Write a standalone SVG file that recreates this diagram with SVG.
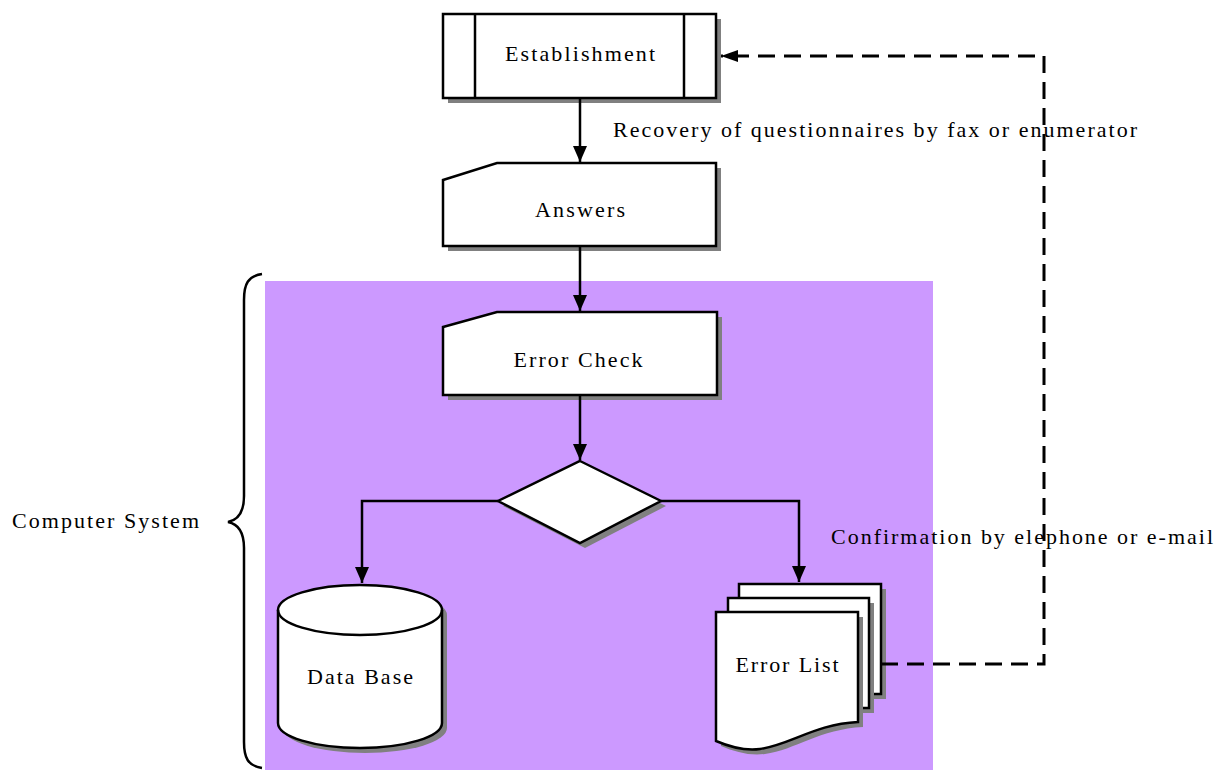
<svg xmlns="http://www.w3.org/2000/svg" width="1221" height="770" viewBox="0 0 1221 770">
<defs>
<style>
.shape{fill:#fff;stroke:#000;stroke-width:2.5;stroke-linejoin:miter}
.shadow{fill:#808080;stroke:none}
.line{fill:none;stroke:#000;stroke-width:2.5}
.dash{fill:none;stroke:#000;stroke-width:3;stroke-dasharray:17 9}
text{font-family:"Liberation Serif","Times New Roman",serif;font-size:22px;fill:#000}
</style>
<marker id="arr" markerUnits="userSpaceOnUse" markerWidth="14" markerHeight="18" viewBox="0 0 14 18" refX="16" refY="7" orient="auto">
<path d="M0,0 L16,7 L0,14 Z" fill="#000"/>
</marker>
<marker id="arrh" markerUnits="userSpaceOnUse" markerWidth="18" markerHeight="12" viewBox="0 0 18 12" refX="17" refY="6" orient="auto">
<path d="M0,0 L17,6 L0,12 Z" fill="#000"/>
</marker>
</defs>
<rect x="265" y="281" width="668" height="489" fill="#CC99FF"/>

<g id="establishment">
<rect class="shadow" x="448" y="19" width="273" height="84"/>
<rect class="shape" x="443" y="14" width="273" height="84"/>
<line class="line" x1="475" y1="14" x2="475" y2="98"/>
<line class="line" x1="684" y1="14" x2="684" y2="98"/>
<text x="580" y="61" text-anchor="middle" textLength="150" lengthAdjust="spacing">Establishment</text>
</g>

<g id="answers">
<path class="shadow" d="M448,185 L502,168 L721,168 L721,251 L448,251 Z"/>
<path class="shape" d="M443,180 L497,163 L716,163 L716,246 L443,246 Z"/>
<text x="580" y="217" text-anchor="middle" textLength="90" lengthAdjust="spacing">Answers</text>
</g>

<g id="error-check">
<path class="shadow" d="M448,332 L502,317 L722,317 L722,400 L448,400 Z"/>
<path class="shape" d="M443,327 L497,312 L717,312 L717,395 L443,395 Z"/>
<text x="578" y="367" text-anchor="middle" textLength="129" lengthAdjust="spacing">Error Check</text>
</g>

<g id="decision">
<path class="shadow" d="M585,466 L666,506 L585,548 L503,506 Z"/>
<path class="shape" d="M580,461 L661,501 L580,543 L498,501 Z"/>
</g>

<g id="database">
<path class="shadow" d="M283,615 A82,25 0 0 1 447,615 L447,728 A82,25 0 0 1 283,728 Z"/>
<path class="shape" d="M278,610 A82,25 0 0 1 442,610 L442,723 A82,25 0 0 1 278,723 Z"/>
<path class="line" d="M278,610 A82,25 0 0 0 442,610"/>
<text x="360" y="684" text-anchor="middle" textLength="106" lengthAdjust="spacing">Data Base</text>
</g>

<g id="error-list">
<rect class="shadow" x="744" y="589" width="142" height="110"/>
<rect class="shape" x="739" y="584" width="142" height="110"/>
<rect class="shadow" x="733" y="603" width="141" height="110"/>
<rect class="shape" x="728" y="598" width="141" height="110"/>
<path class="shadow" d="M721,617 L863,617 L863,727 C820,729 795,750 765,754 C750,756 735,752 721,746 Z"/>
<path class="shape" d="M716,612 L858,612 L858,722 C815,724 790,745 760,749 C745,751 730,747 716,741 Z"/>
<text x="787" y="672" text-anchor="middle" textLength="103" lengthAdjust="spacing">Error List</text>
</g>

<g id="connectors">
<line class="line" x1="580" y1="98" x2="580" y2="162" marker-end="url(#arr)"/>
<line class="line" x1="580" y1="246" x2="580" y2="311" marker-end="url(#arr)"/>
<line class="line" x1="580" y1="395" x2="580" y2="460" marker-end="url(#arr)"/>
<polyline class="line" points="498,501 362,501 362,583" marker-end="url(#arr)"/>
<polyline class="line" points="661,501 799,501 799,582" marker-end="url(#arr)"/>
<polyline class="dash" points="881,664 1044,664 1044,56 721,56" marker-end="url(#arrh)"/>
</g>

<g id="brace">
<path class="line" d="M262,274 C248,276 244,284 244,300 L244,496 C244,512 238,520 228,522 C238,524 244,532 244,548 L244,742 C244,758 248,766 262,768"/>
</g>

<g id="labels">
<text x="613" y="137" textLength="524" lengthAdjust="spacing">Recovery of questionnaires by fax or enumerator</text>
<text x="831" y="544" textLength="382" lengthAdjust="spacing">Confirmation by elephone or e-mail</text>
<text x="12" y="528" textLength="187" lengthAdjust="spacing">Computer System</text>
</g>
</svg>
